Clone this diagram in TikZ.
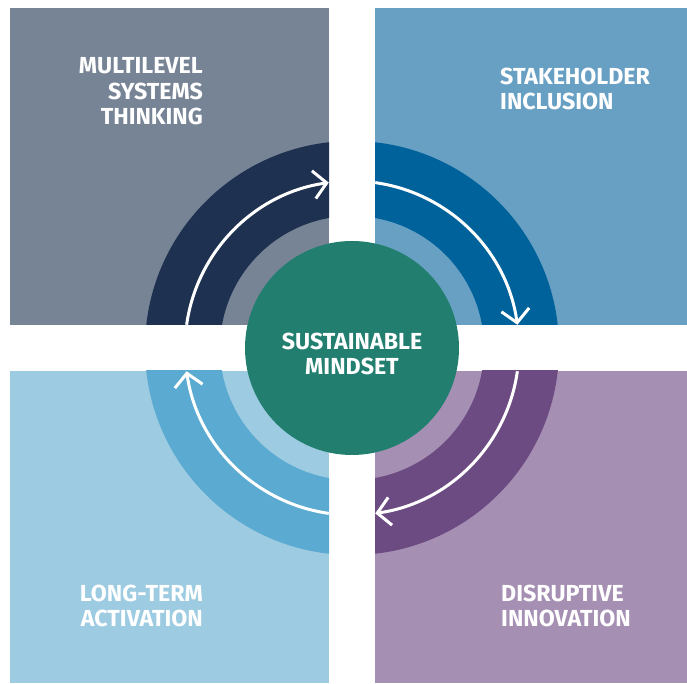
\documentclass[tikz,border=0pt]{standalone}
\usepackage{fontspec}
\setmainfont{Fira Sans}
\usetikzlibrary{arrows.meta}
\definecolor{sqTL}{HTML}{778496}
\definecolor{rgTL}{HTML}{1E3150}
\definecolor{sqTR}{HTML}{68A0C4}
\definecolor{rgTR}{HTML}{00629B}
\definecolor{sqBL}{HTML}{9DCBE1}
\definecolor{rgBL}{HTML}{5BAAD1}
\definecolor{sqBR}{HTML}{A58FB3}
\definecolor{rgBR}{HTML}{6C4A82}
\definecolor{core}{HTML}{227F70}
\tikzset{
  label text/.style={text=white, inner sep=0pt, font=\bfseries\fontsize{23.2}{25.5}\selectfont},
  flow/.style={white, line width=3pt, -{Straight Barb[length=13pt,width=28pt]}},
}
\begin{document}
\begin{tikzpicture}[x=1pt,y=1pt]
\useasboundingbox (0,0) rectangle (687,684);
\coordinate (C) at (352,336);
% quadrants
\fill[sqTL] (10,359) rectangle (329,676);
\fill[sqTR] (375,359) rectangle (687,676);
\fill[sqBL] (10,1) rectangle (329,313);
\fill[sqBR] (375,1) rectangle (687,313);
% rings
\begin{scope}
  \clip (10,359) rectangle (329,676);
  \fill[rgTL, even odd rule] (C) circle[radius=207] (C) circle[radius=132];
\end{scope}
\begin{scope}
  \clip (375,359) rectangle (687,676);
  \fill[rgTR, even odd rule] (C) circle[radius=207] (C) circle[radius=132];
\end{scope}
\begin{scope}
  \clip (10,1) rectangle (329,313);
  \fill[rgBL, even odd rule] (C) circle[radius=207] (C) circle[radius=132];
\end{scope}
\begin{scope}
  \clip (375,1) rectangle (687,313);
  \fill[rgBR, even odd rule] (C) circle[radius=207] (C) circle[radius=132];
\end{scope}
% arrows
\draw[flow] ([shift={(172:167)}]C) arc[start angle=172, end angle=98, radius=167];
\draw[flow] ([shift={(82:167)}]C) arc[start angle=82, end angle=8, radius=167];
\draw[flow] ([shift={(-8:167)}]C) arc[start angle=-8, end angle=-82, radius=167];
\draw[flow] ([shift={(-98:167)}]C) arc[start angle=-98, end angle=-172, radius=167];
% centre
\node[circle, fill=core, minimum size=214pt, inner sep=0pt] (mind) at (C) {};
\node[label text, align=center, anchor=base] (mindtxt) at (352,309) {SUSTAINABLE\\MINDSET};
% labels
\node[label text, align=right, anchor=base east] (tl) at (203,559) {MULTILEVEL\\SYSTEMS\\THINKING};
\node[label text, align=left, anchor=base west] (tr) at (500,574) {STAKEHOLDER\\INCLUSION};
\node[label text, align=right, anchor=base east] (bl) at (203,57) {LONG-TERM\\ACTIVATION};
\node[label text, align=left, anchor=base west] (br) at (501,57) {DISRUPTIVE\\INNOVATION};
\end{tikzpicture}
\end{document}
